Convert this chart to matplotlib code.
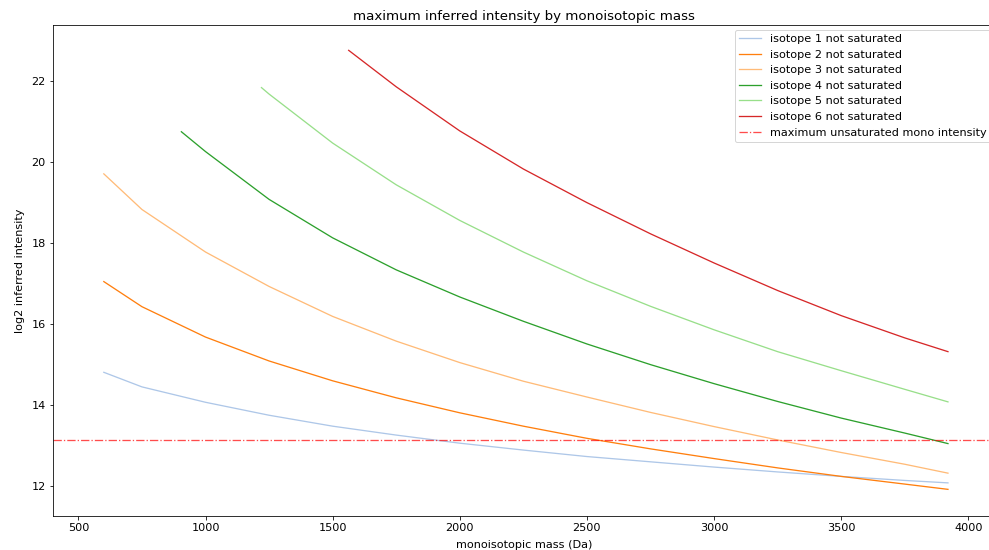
import matplotlib
matplotlib.use("Agg")
import matplotlib.pyplot as plt

# values (mass in Da, log2 intensity)
mass_1 = [600, 750, 1000, 1250, 1500, 1750, 2000, 2250, 2500, 2750, 3000, 3250, 3500, 3750, 3920]
iso_1 = [14.80, 14.44, 14.06, 13.74, 13.47, 13.25, 13.05, 12.88, 12.72, 12.59, 12.46, 12.34, 12.23, 12.13, 12.07]

mass_2 = [600, 750, 1000, 1250, 1500, 1750, 2000, 2250, 2500, 2750, 3000, 3250, 3500, 3750, 3920]
iso_2 = [17.04, 16.42, 15.67, 15.08, 14.59, 14.17, 13.80, 13.47, 13.17, 12.91, 12.67, 12.44, 12.23, 12.04, 11.91]

mass_3 = [600, 750, 1000, 1250, 1500, 1750, 2000, 2250, 2500, 2750, 3000, 3250, 3500, 3750, 3920]
iso_3 = [19.70, 18.82, 17.77, 16.92, 16.18, 15.57, 15.04, 14.58, 14.19, 13.81, 13.46, 13.13, 12.82, 12.53, 12.31]

mass_4 = [905, 1000, 1250, 1500, 1750, 2000, 2250, 2500, 2750, 3000, 3250, 3500, 3750, 3920]
iso_4 = [20.74, 20.25, 19.07, 18.12, 17.33, 16.66, 16.06, 15.50, 14.99, 14.52, 14.08, 13.67, 13.30, 13.04]

mass_5 = [1220, 1250, 1500, 1750, 2000, 2250, 2500, 2750, 3000, 3250, 3500, 3750, 3920]
iso_5 = [21.83, 21.67, 20.46, 19.43, 18.55, 17.77, 17.06, 16.43, 15.85, 15.31, 14.84, 14.38, 14.07]

mass_6 = [1563, 1750, 2000, 2250, 2500, 2750, 3000, 3250, 3500, 3750, 3920]
iso_6 = [22.75, 21.85, 20.76, 19.82, 18.99, 18.22, 17.50, 16.82, 16.20, 15.65, 15.31]

max_mono_intensity = 13.13

labels = ["isotope {} not saturated".format(i) for i in range(1, 7)]
colors = ["#aec7e8", "#ff7f0e", "#ffbb78", "#2ca02c", "#98df8a", "#d62728"]

plt.rcParams["font.size"] = 11.2

fig = plt.figure(figsize=(989 / 72, 550 / 72), dpi=72)
ax = fig.add_axes([0.0533, 0.0613, 1.0071 - 0.0533, 0.9545 - 0.0613])

series = [(mass_1, iso_1), (mass_2, iso_2), (mass_3, iso_3),
          (mass_4, iso_4), (mass_5, iso_5), (mass_6, iso_6)]
for (m, v), lab, c in zip(series, labels, colors):
    ax.plot(m, v, color=c, label=lab, linewidth=1.3)

ax.axhline(max_mono_intensity, color="red", linestyle="-.", alpha=0.7,
           linewidth=1.3, label="maximum unsaturated mono intensity")

ax.set_xlim(399, 4109)
ax.set_ylim(11.245, 23.375)
ax.set_xticks([500, 1000, 1500, 2000, 2500, 3000, 3500, 4000])
ax.set_yticks([12, 14, 16, 18, 20, 22])
ax.spines["right"].set_visible(False)

ax.set_title("maximum inferred intensity by monoisotopic mass", fontsize=13.4, pad=5)
ax.set_xlabel("monoisotopic mass (Da)", labelpad=7)
ax.set_ylabel("log2 inferred intensity", labelpad=6)
ax.legend(loc="upper right", borderaxespad=0.4)

fig.savefig("out.png", dpi=72)
